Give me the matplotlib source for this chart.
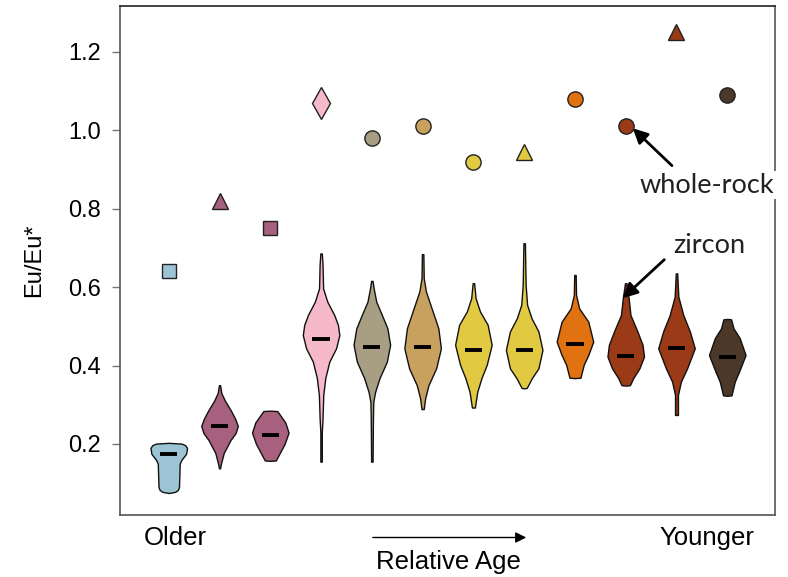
import matplotlib
matplotlib.use("Agg")
import matplotlib.pyplot as plt
import numpy as np

plt.rcParams['font.family'] = ['Liberation Sans', 'DejaVu Sans']

positions = list(range(1, 13))
colors = ['#9cc4d4', '#a8607f', '#a8607f', '#f5b9c9', '#a89e84', '#c9a15e',
          '#e1c942', '#e1c942', '#e07212', '#9b3a17', '#9b3a17', '#4b3828']

# whole-rock Eu/Eu*
wr_values = [0.64, 0.82, 0.75, 1.07, 0.98, 1.01, 0.92, 0.945, 1.08, 1.01, 1.25, 1.09]
wr_markers = ['s', '^', 's', 'd', 'o', 'o', 'o', '^', 'o', 'o', '^', 'o']

# zircon medians
medians = [0.175, 0.245, 0.224, 0.467, 0.448, 0.448, 0.439, 0.44, 0.455, 0.425, 0.444, 0.423]

# violin profiles: Eu/Eu* levels and relative density widths
v_coords = [
    [0.075, 0.078, 0.083, 0.09, 0.12, 0.15, 0.16, 0.175, 0.19, 0.197, 0.201, 0.203],
    [0.138, 0.15, 0.177, 0.21, 0.228, 0.246, 0.265, 0.287, 0.31, 0.33, 0.35],
    [0.157, 0.158, 0.20, 0.229, 0.255, 0.284, 0.285],
    [0.155, 0.231, 0.266, 0.325, 0.368, 0.41, 0.444, 0.478, 0.504, 0.529, 0.563, 0.597, 0.657, 0.686],
    [0.155, 0.215, 0.266, 0.308, 0.333, 0.368, 0.41, 0.453, 0.495, 0.529, 0.563, 0.597, 0.616],
    [0.289, 0.317, 0.35, 0.393, 0.444, 0.495, 0.538, 0.589, 0.623, 0.684],
    [0.293, 0.333, 0.368, 0.402, 0.453, 0.504, 0.538, 0.572, 0.61],
    [0.342, 0.343, 0.368, 0.393, 0.44, 0.487, 0.521, 0.555, 0.606, 0.712],
    [0.368, 0.369, 0.402, 0.427, 0.461, 0.512, 0.546, 0.58, 0.631],
    [0.349, 0.35, 0.368, 0.393, 0.423, 0.453, 0.487, 0.529, 0.572, 0.61],
    [0.274, 0.325, 0.359, 0.393, 0.444, 0.487, 0.529, 0.576, 0.635],
    [0.323, 0.324, 0.359, 0.384, 0.427, 0.47, 0.495, 0.518, 0.519],
]
v_widths = [
    [0.0, 0.35, 0.5, 0.56, 0.58, 0.6, 0.7, 0.95, 1.0, 0.9, 0.7, 0.0],
    [0.03, 0.08, 0.23, 0.6, 0.88, 1.0, 0.85, 0.6, 0.3, 0.1, 0.03],
    [0.0, 0.3, 0.78, 1.0, 0.82, 0.38, 0.0],
    [0.04, 0.04, 0.08, 0.12, 0.23, 0.45, 0.82, 1.0, 0.92, 0.72, 0.34, 0.11, 0.08, 0.04],
    [0.04, 0.05, 0.06, 0.08, 0.18, 0.42, 0.82, 1.0, 0.85, 0.55, 0.24, 0.1, 0.04],
    [0.06, 0.14, 0.32, 0.74, 1.0, 0.86, 0.55, 0.18, 0.06, 0.04],
    [0.08, 0.21, 0.44, 0.73, 1.0, 0.78, 0.36, 0.12, 0.04],
    [0.0, 0.14, 0.42, 0.78, 1.0, 0.78, 0.4, 0.16, 0.08, 0.04],
    [0.0, 0.3, 0.48, 0.73, 1.0, 0.73, 0.23, 0.06, 0.04],
    [0.0, 0.23, 0.41, 0.75, 1.0, 0.92, 0.64, 0.26, 0.16, 0.04],
    [0.08, 0.08, 0.24, 0.58, 1.0, 0.73, 0.37, 0.1, 0.04],
    [0.0, 0.23, 0.41, 0.64, 1.0, 0.68, 0.34, 0.21, 0.0],
]

fig = plt.figure(figsize=(7.88, 5.77), dpi=100)
ax = fig.add_axes([0.1523, 0.1075, 0.8312, 0.8821])

vpstats = []
for c, w, m in zip(v_coords, v_widths, medians):
    vpstats.append(dict(coords=np.array(c), vals=np.array(w), mean=m, median=m,
                        min=min(c), max=max(c)))
parts = ax.violin(vpstats, positions=positions, widths=0.72,
                  showmeans=False, showextrema=False, showmedians=False)
for body, col in zip(parts['bodies'], colors):
    body.set_facecolor(col)
    body.set_edgecolor('#111111')
    body.set_linewidth(1.0)
    body.set_alpha(1)

ax.hlines(medians, np.array(positions) - 0.17, np.array(positions) + 0.17,
          colors='black', linewidth=2.8, zorder=3)

for x, y, mk, col in zip(positions, wr_values, wr_markers, colors):
    ms = {'o': 11, 's': 10.5, '^': 11, 'd': 16}[mk]
    ax.plot(x, y, marker=mk, markersize=ms, markerfacecolor=col,
            markeredgecolor='#222222', markeredgewidth=1.0, linestyle='none', zorder=4)

ax.set_xlim(0.04, 12.94)
ax.set_ylim(0.019, 1.317)
ax.set_xticks([])
ax.set_yticks([0.2, 0.4, 0.6, 0.8, 1.0, 1.2])
ax.set_yticklabels(['0.2', '0.4', '0.6', '0.8', '1.0', '1.2'])
ax.tick_params(axis='y', length=6, width=1.0, color='#777777', labelsize=17, pad=8)
for s in ax.spines.values():
    s.set_color('#555555')
    s.set_linewidth(1.2)
ax.spines['top'].set_color('#222222')
ax.set_ylabel('Eu/Eu*', fontsize=17, labelpad=16)

# annotations
ax.annotate('', xy=(10.1, 1.01), xytext=(10.95, 0.905),
            arrowprops=dict(arrowstyle='-|>', color='black', lw=2, mutation_scale=22))
ax.text(11.6, 0.86, 'whole-rock', fontsize=19.5, family=['Lato', 'DejaVu Sans'],
        ha='center', va='center', color='#222222',
        bbox=dict(facecolor='white', edgecolor='none', pad=1))
ax.annotate('', xy=(9.9, 0.567), xytext=(10.8, 0.675),
            arrowprops=dict(arrowstyle='-|>', color='black', lw=2, mutation_scale=22))
ax.text(11.65, 0.705, 'zircon', fontsize=19.5, family=['Lato', 'DejaVu Sans'],
        ha='center', va='center', color='#222222',
        bbox=dict(facecolor='white', edgecolor='none', pad=1))

# relative age axis annotation
fig.text(175 / 788, 1 - 538 / 577, 'Older', fontsize=18.5, ha='center', va='center')
fig.text(707 / 788, 1 - 538 / 577, 'Younger', fontsize=18.5, ha='center', va='center')
fig.text(448 / 788, 1 - 562 / 577, 'Relative Age', fontsize=18.5, ha='center', va='center')
ax.annotate('', xy=(529 / 788, 1 - 537.5 / 577), xytext=(370 / 788, 1 - 537.5 / 577),
            xycoords='figure fraction', textcoords='figure fraction',
            arrowprops=dict(arrowstyle='-|>', color='black', lw=1.0, mutation_scale=16))

fig.savefig('out.png', dpi=100)
